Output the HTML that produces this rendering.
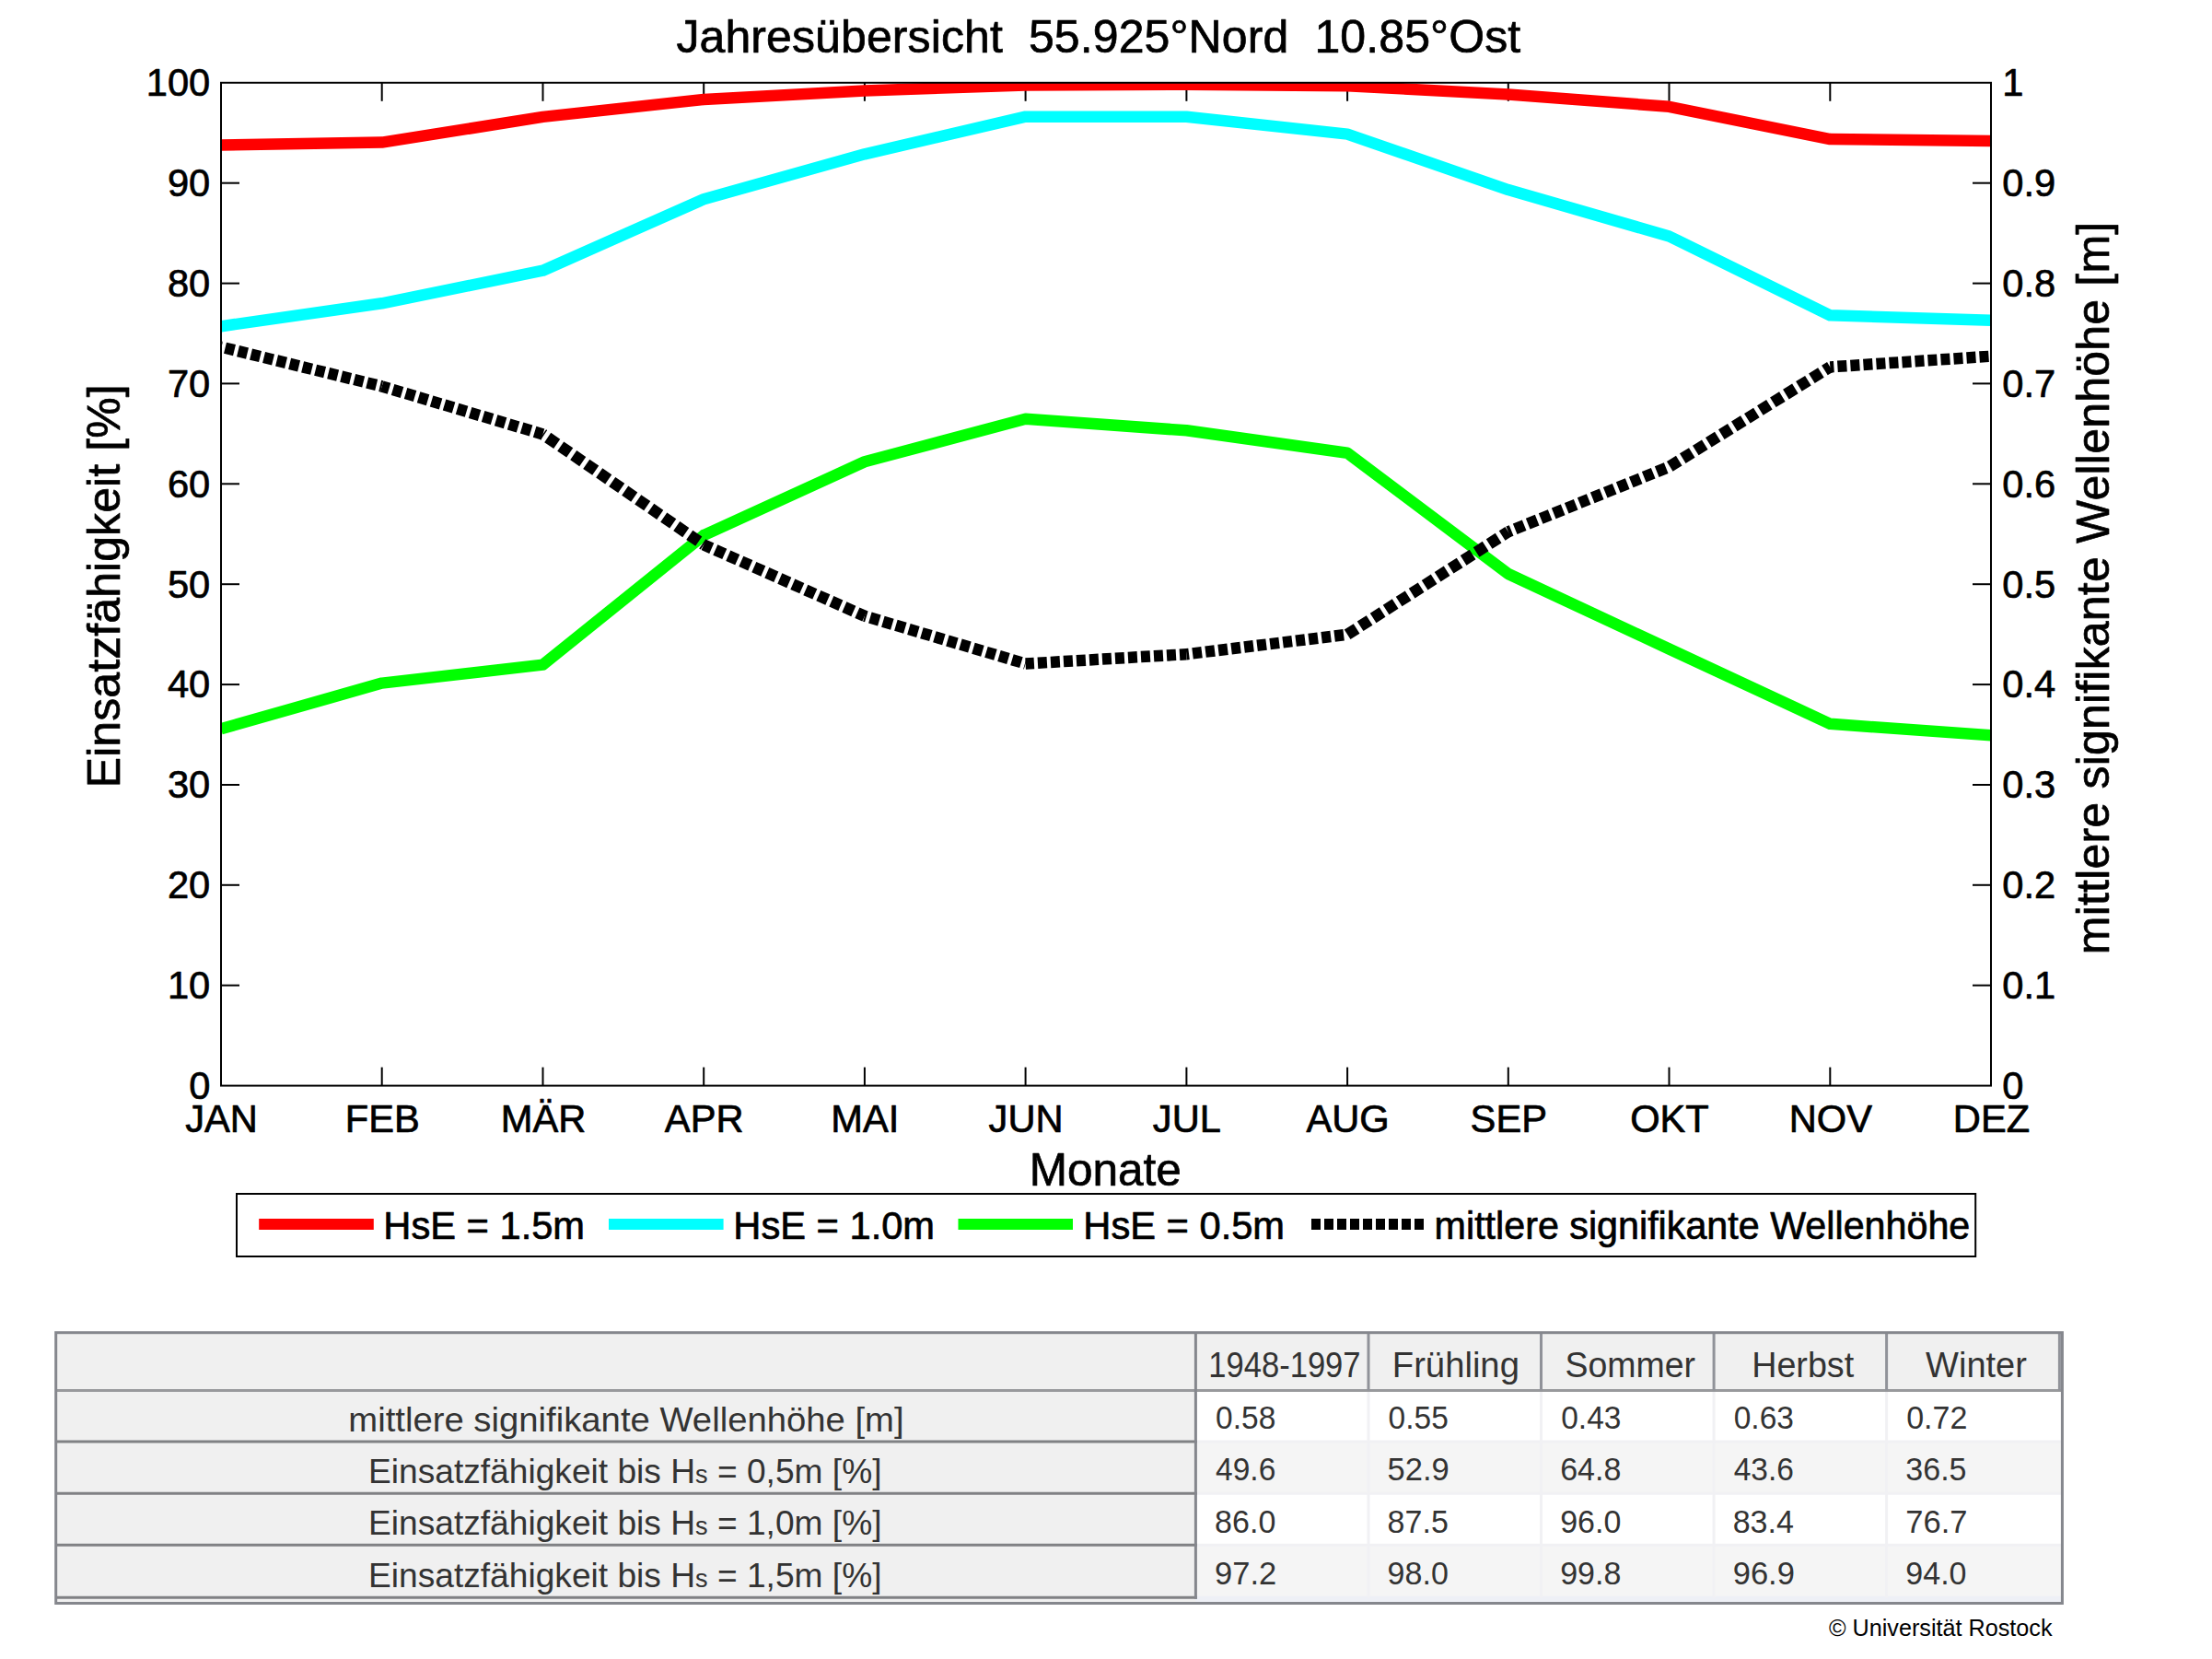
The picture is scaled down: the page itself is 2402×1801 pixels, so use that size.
<!DOCTYPE html>
<html lang="de"><head><meta charset="utf-8"><title>Jahresübersicht 55.925°Nord 10.85°Ost</title>
<style>html,body{margin:0;padding:0;background:#fff;}svg{display:block;}text{font-family:'Liberation Sans', sans-serif;fill:#000;}.c text{stroke:#000;stroke-width:0.7px;stroke-linejoin:round;}.t text{fill:#333;}</style></head><body>
<svg width="2402" height="1801" viewBox="0 0 2402 1801">
<rect x="0" y="0" width="2402" height="1801" fill="#ffffff"/>
<defs><clipPath id="pc"><rect x="240.0" y="89.8" width="1922.0" height="1088.8"/></clipPath></defs>
<g class="c">
<text x="1192.8" y="56.5" font-size="50.0" text-anchor="middle" textLength="916.8" lengthAdjust="spacing" xml:space="preserve" style="white-space:pre">Jahresübersicht  55.925°Nord  10.85°Ost</text>
<g stroke="#000" stroke-width="2" fill="none">
<line x1="414.7" y1="1178.6" x2="414.7" y2="1158.6"/>
<line x1="414.7" y1="89.8" x2="414.7" y2="109.8"/>
<line x1="589.5" y1="1178.6" x2="589.5" y2="1158.6"/>
<line x1="589.5" y1="89.8" x2="589.5" y2="109.8"/>
<line x1="764.2" y1="1178.6" x2="764.2" y2="1158.6"/>
<line x1="764.2" y1="89.8" x2="764.2" y2="109.8"/>
<line x1="938.9" y1="1178.6" x2="938.9" y2="1158.6"/>
<line x1="938.9" y1="89.8" x2="938.9" y2="109.8"/>
<line x1="1113.6" y1="1178.6" x2="1113.6" y2="1158.6"/>
<line x1="1113.6" y1="89.8" x2="1113.6" y2="109.8"/>
<line x1="1288.4" y1="1178.6" x2="1288.4" y2="1158.6"/>
<line x1="1288.4" y1="89.8" x2="1288.4" y2="109.8"/>
<line x1="1463.1" y1="1178.6" x2="1463.1" y2="1158.6"/>
<line x1="1463.1" y1="89.8" x2="1463.1" y2="109.8"/>
<line x1="1637.8" y1="1178.6" x2="1637.8" y2="1158.6"/>
<line x1="1637.8" y1="89.8" x2="1637.8" y2="109.8"/>
<line x1="1812.5" y1="1178.6" x2="1812.5" y2="1158.6"/>
<line x1="1812.5" y1="89.8" x2="1812.5" y2="109.8"/>
<line x1="1987.3" y1="1178.6" x2="1987.3" y2="1158.6"/>
<line x1="1987.3" y1="89.8" x2="1987.3" y2="109.8"/>
<line x1="240.0" y1="1069.7" x2="260.0" y2="1069.7"/>
<line x1="2162.0" y1="1069.7" x2="2142.0" y2="1069.7"/>
<line x1="240.0" y1="960.8" x2="260.0" y2="960.8"/>
<line x1="2162.0" y1="960.8" x2="2142.0" y2="960.8"/>
<line x1="240.0" y1="852.0" x2="260.0" y2="852.0"/>
<line x1="2162.0" y1="852.0" x2="2142.0" y2="852.0"/>
<line x1="240.0" y1="743.1" x2="260.0" y2="743.1"/>
<line x1="2162.0" y1="743.1" x2="2142.0" y2="743.1"/>
<line x1="240.0" y1="634.2" x2="260.0" y2="634.2"/>
<line x1="2162.0" y1="634.2" x2="2142.0" y2="634.2"/>
<line x1="240.0" y1="525.3" x2="260.0" y2="525.3"/>
<line x1="2162.0" y1="525.3" x2="2142.0" y2="525.3"/>
<line x1="240.0" y1="416.4" x2="260.0" y2="416.4"/>
<line x1="2162.0" y1="416.4" x2="2142.0" y2="416.4"/>
<line x1="240.0" y1="307.6" x2="260.0" y2="307.6"/>
<line x1="2162.0" y1="307.6" x2="2142.0" y2="307.6"/>
<line x1="240.0" y1="198.7" x2="260.0" y2="198.7"/>
<line x1="2162.0" y1="198.7" x2="2142.0" y2="198.7"/>
</g>
<g clip-path="url(#pc)" fill="none" stroke-width="12.5" stroke-linejoin="round">
<polyline stroke="#ff0000" points="240.0,157.4 414.7,154.6 589.5,126.9 764.2,108.0 938.9,98.4 1113.6,92.5 1288.4,91.7 1463.1,93.3 1637.8,102.5 1812.5,115.8 1987.3,151.1 2162.0,153.0"/>
<polyline stroke="#00ffff" points="240.0,354.2 414.7,329.3 589.5,293.7 764.2,216.2 938.9,167.3 1113.6,126.7 1288.4,126.7 1463.1,145.6 1637.8,206.1 1812.5,256.5 1987.3,342.3 2162.0,347.7"/>
<polyline stroke="#00ff00" points="240.0,791.3 414.7,741.6 589.5,721.6 764.2,581.0 938.9,501.3 1113.6,454.7 1288.4,467.3 1463.1,491.8 1637.8,623.0 1812.5,704.5 1987.3,785.8 2162.0,798.3"/>
<g stroke="#000000" stroke-linecap="butt">
<line x1="240.0" y1="376.6" x2="414.7" y2="419.4" stroke-dasharray="10.30 4.13" stroke-dashoffset="9.79"/>
<line x1="414.7" y1="419.4" x2="589.5" y2="471.4" stroke-dasharray="10.43 4.18" stroke-dashoffset="2.24"/>
<line x1="589.5" y1="471.4" x2="764.2" y2="591.4" stroke-dasharray="12.13 4.86" stroke-dashoffset="10.66"/>
<line x1="764.2" y1="591.4" x2="938.9" y2="668.8" stroke-dasharray="10.94 4.38" stroke-dashoffset="1.56"/>
<line x1="938.9" y1="668.8" x2="1113.6" y2="720.5" stroke-dasharray="10.43 4.18" stroke-dashoffset="8.41"/>
<line x1="1113.6" y1="720.5" x2="1288.4" y2="710.2" stroke-dasharray="10.02 4.01" stroke-dashoffset="0.70"/>
<line x1="1288.4" y1="710.2" x2="1463.1" y2="688.8" stroke-dasharray="10.07 4.04" stroke-dashoffset="7.40"/>
<line x1="1463.1" y1="688.8" x2="1637.8" y2="577.3" stroke-dasharray="11.86 4.75" stroke-dashoffset="16.59"/>
<line x1="1637.8" y1="577.3" x2="1812.5" y2="506.8" stroke-dasharray="10.78 4.32" stroke-dashoffset="7.14"/>
<line x1="1812.5" y1="506.8" x2="1987.3" y2="398.4" stroke-dasharray="11.77 4.72" stroke-dashoffset="15.61"/>
<line x1="1987.3" y1="398.4" x2="2162.0" y2="386.7" stroke-dasharray="10.02 4.02" stroke-dashoffset="5.92"/>
</g>
</g>
<rect x="240.0" y="89.8" width="1922.0" height="1088.8" fill="none" stroke="#000" stroke-width="2"/>
<g font-size="41.67">
<text x="228.3" y="1192.9" text-anchor="end">0</text>
<text x="2174.3" y="1192.9">0</text>
<text x="228.3" y="1084.0" text-anchor="end">10</text>
<text x="2174.3" y="1084.0">0.1</text>
<text x="228.3" y="975.1" text-anchor="end">20</text>
<text x="2174.3" y="975.1">0.2</text>
<text x="228.3" y="866.3" text-anchor="end">30</text>
<text x="2174.3" y="866.3">0.3</text>
<text x="228.3" y="757.4" text-anchor="end">40</text>
<text x="2174.3" y="757.4">0.4</text>
<text x="228.3" y="648.5" text-anchor="end">50</text>
<text x="2174.3" y="648.5">0.5</text>
<text x="228.3" y="539.6" text-anchor="end">60</text>
<text x="2174.3" y="539.6">0.6</text>
<text x="228.3" y="430.7" text-anchor="end">70</text>
<text x="2174.3" y="430.7">0.7</text>
<text x="228.3" y="321.9" text-anchor="end">80</text>
<text x="2174.3" y="321.9">0.8</text>
<text x="228.3" y="213.0" text-anchor="end">90</text>
<text x="2174.3" y="213.0">0.9</text>
<text x="228.3" y="104.1" text-anchor="end">100</text>
<text x="2174.3" y="104.1">1</text>
<text x="240.5" y="1229.3" text-anchor="middle">JAN</text>
<text x="415.2" y="1229.3" text-anchor="middle">FEB</text>
<text x="590.0" y="1229.3" text-anchor="middle">MÄR</text>
<text x="764.7" y="1229.3" text-anchor="middle">APR</text>
<text x="939.4" y="1229.3" text-anchor="middle">MAI</text>
<text x="1114.1" y="1229.3" text-anchor="middle">JUN</text>
<text x="1288.9" y="1229.3" text-anchor="middle">JUL</text>
<text x="1463.6" y="1229.3" text-anchor="middle">AUG</text>
<text x="1638.3" y="1229.3" text-anchor="middle">SEP</text>
<text x="1813.0" y="1229.3" text-anchor="middle">OKT</text>
<text x="1987.8" y="1229.3" text-anchor="middle">NOV</text>
<text x="2162.5" y="1229.3" text-anchor="middle">DEZ</text>
</g>
<text x="1200.3" y="1286.8" font-size="50.0" text-anchor="middle" textLength="165.3" lengthAdjust="spacingAndGlyphs">Monate</text>
<text transform="translate(130,636.3) rotate(-90)" font-size="50.0" text-anchor="middle" textLength="438" lengthAdjust="spacing">Einsatzfähigkeit [%]</text>
<text transform="translate(2290,638.5) rotate(-90)" font-size="50.0" text-anchor="middle" textLength="795.4" lengthAdjust="spacing">mittlere signifikante Wellenhöhe [m]</text>
<rect x="257" y="1296" width="1888.2" height="68" fill="#fff" stroke="#000" stroke-width="2"/>
<g fill="none" stroke-width="11.9">
<line x1="281.2" y1="1329" x2="405.8" y2="1329" stroke="#ff0000"/>
<line x1="661" y1="1329" x2="785.6" y2="1329" stroke="#00ffff"/>
<line x1="1040.5" y1="1329" x2="1165" y2="1329" stroke="#00ff00"/>
<line x1="1424" y1="1329" x2="1549" y2="1329" stroke="#000" stroke-dasharray="10 4"/>
</g>
<g font-size="41.67">
<text x="416.3" y="1344.8">HsE = 1.5m</text>
<text x="796.3" y="1344.8">HsE = 1.0m</text>
<text x="1176.3" y="1344.8">HsE = 0.5m</text>
<text x="1557.6" y="1344.8" font-size="41.67" textLength="581.7" lengthAdjust="spacingAndGlyphs">mittlere signifikante Wellenhöhe</text>
</g>
</g>
<rect x="60.7" y="1446.7" width="2178.7" height="293.8" fill="#f0f0f0"/>
<rect x="1298.4" y="1509.4" width="941.0" height="55.7" fill="#ffffff"/>
<rect x="1298.4" y="1565.1" width="941.0" height="56.2" fill="#f5f5f5"/>
<rect x="1298.4" y="1621.3" width="941.0" height="56.0" fill="#ffffff"/>
<rect x="1298.4" y="1677.3" width="941.0" height="57.0" fill="#f5f5f5"/>
<rect x="1298.4" y="1732.8" width="941.0" height="7.7" fill="#eef0f6"/>
<g stroke="#f1f1f4" stroke-width="3" fill="none">
<line x1="1486.0" y1="1509.4" x2="1486.0" y2="1734.3"/>
<line x1="1673.5" y1="1509.4" x2="1673.5" y2="1734.3"/>
<line x1="1861.1" y1="1509.4" x2="1861.1" y2="1734.3"/>
<line x1="2048.6" y1="1509.4" x2="2048.6" y2="1734.3"/>
<line x1="1298.4" y1="1565.1" x2="2239.4" y2="1565.1"/>
<line x1="1298.4" y1="1621.3" x2="2239.4" y2="1621.3"/>
<line x1="1298.4" y1="1677.3" x2="2239.4" y2="1677.3"/>
</g>
<g stroke="#85878d" stroke-width="3" fill="none">
<line x1="60.7" y1="1509.4" x2="1299.9" y2="1509.4" stroke="#98999c"/>
<line x1="60.7" y1="1565.1" x2="1299.9" y2="1565.1" stroke="#808184"/>
<line x1="60.7" y1="1621.3" x2="1299.9" y2="1621.3" stroke="#808184"/>
<line x1="60.7" y1="1677.3" x2="1299.9" y2="1677.3" stroke="#808184"/>
<line x1="60.7" y1="1734.3" x2="1299.9" y2="1734.3" stroke="#808184"/>
<line x1="1298.4" y1="1509.4" x2="2239.4" y2="1509.4" stroke="#98999c"/>
<line x1="1298.4" y1="1446.7" x2="1298.4" y2="1735.8"/>
<line x1="1486.0" y1="1446.7" x2="1486.0" y2="1509.4" stroke="#909299"/>
<line x1="1673.5" y1="1446.7" x2="1673.5" y2="1509.4" stroke="#909299"/>
<line x1="1861.1" y1="1446.7" x2="1861.1" y2="1509.4" stroke="#909299"/>
<line x1="2048.6" y1="1446.7" x2="2048.6" y2="1509.4" stroke="#909299"/>
<line x1="2236.4" y1="1446.7" x2="2236.4" y2="1509.4" stroke="#909299"/>
<rect x="60.7" y="1446.7" width="2178.7" height="293.8"/>
</g>
<g class="t">
<text x="1312.2" y="1494.5" font-size="38" textLength="165.4" lengthAdjust="spacingAndGlyphs">1948-1997</text>
<text x="1511.8" y="1494.5" font-size="38" textLength="138.1" lengthAdjust="spacingAndGlyphs">Frühling</text>
<text x="1699.5" y="1494.5" font-size="38" textLength="141.6" lengthAdjust="spacingAndGlyphs">Sommer</text>
<text x="1902.2" y="1494.5" font-size="38" textLength="111.0" lengthAdjust="spacingAndGlyphs">Herbst</text>
<text x="2091.1" y="1494.5" font-size="38" textLength="109.8" lengthAdjust="spacingAndGlyphs">Winter</text>
<text x="378.3" y="1553.7" font-size="37" textLength="603.3" lengthAdjust="spacingAndGlyphs">mittlere signifikante Wellenhöhe [m]</text>
<text x="1320.1" y="1550.9" font-size="35.5" textLength="65.2" lengthAdjust="spacingAndGlyphs">0.58</text>
<text x="1507.6" y="1550.9" font-size="35.5" textLength="65.2" lengthAdjust="spacingAndGlyphs">0.55</text>
<text x="1695.2" y="1550.9" font-size="35.5" textLength="65.2" lengthAdjust="spacingAndGlyphs">0.43</text>
<text x="1882.7" y="1550.9" font-size="35.5" textLength="65.2" lengthAdjust="spacingAndGlyphs">0.63</text>
<text x="2070.2" y="1550.9" font-size="35.5" textLength="66.2" lengthAdjust="spacingAndGlyphs">0.72</text>
<text x="400.0" y="1610.2" font-size="37" textLength="557.5" lengthAdjust="spacingAndGlyphs">Einsatzfähigkeit bis H<tspan font-size="27">s</tspan> = 0,5m [%]</text>
<text x="1320.1" y="1607.3" font-size="35.5" textLength="65.2" lengthAdjust="spacingAndGlyphs">49.6</text>
<text x="1506.6" y="1607.3" font-size="35.5" textLength="67.2" lengthAdjust="spacingAndGlyphs">52.9</text>
<text x="1694.2" y="1607.3" font-size="35.5" textLength="66.2" lengthAdjust="spacingAndGlyphs">64.8</text>
<text x="1882.7" y="1607.3" font-size="35.5" textLength="65.2" lengthAdjust="spacingAndGlyphs">43.6</text>
<text x="2069.3" y="1607.3" font-size="35.5" textLength="66.2" lengthAdjust="spacingAndGlyphs">36.5</text>
<text x="400.0" y="1666.4" font-size="37" textLength="557.5" lengthAdjust="spacingAndGlyphs">Einsatzfähigkeit bis H<tspan font-size="27">s</tspan> = 1,0m [%]</text>
<text x="1319.1" y="1663.7" font-size="35.5" textLength="66.2" lengthAdjust="spacingAndGlyphs">86.0</text>
<text x="1506.6" y="1663.7" font-size="35.5" textLength="66.2" lengthAdjust="spacingAndGlyphs">87.5</text>
<text x="1694.2" y="1663.7" font-size="35.5" textLength="66.2" lengthAdjust="spacingAndGlyphs">96.0</text>
<text x="1881.7" y="1663.7" font-size="35.5" textLength="66.2" lengthAdjust="spacingAndGlyphs">83.4</text>
<text x="2069.3" y="1663.7" font-size="35.5" textLength="67.2" lengthAdjust="spacingAndGlyphs">76.7</text>
<text x="400.0" y="1722.5" font-size="37" textLength="557.5" lengthAdjust="spacingAndGlyphs">Einsatzfähigkeit bis H<tspan font-size="27">s</tspan> = 1,5m [%]</text>
<text x="1319.1" y="1720.1" font-size="35.5" textLength="67.2" lengthAdjust="spacingAndGlyphs">97.2</text>
<text x="1506.6" y="1720.1" font-size="35.5" textLength="66.2" lengthAdjust="spacingAndGlyphs">98.0</text>
<text x="1694.2" y="1720.1" font-size="35.5" textLength="66.2" lengthAdjust="spacingAndGlyphs">99.8</text>
<text x="1881.7" y="1720.1" font-size="35.5" textLength="67.2" lengthAdjust="spacingAndGlyphs">96.9</text>
<text x="2069.3" y="1720.1" font-size="35.5" textLength="66.2" lengthAdjust="spacingAndGlyphs">94.0</text>
</g>
<text x="1986" y="1776" font-size="25.2">© Universität Rostock</text>
</svg></body></html>
